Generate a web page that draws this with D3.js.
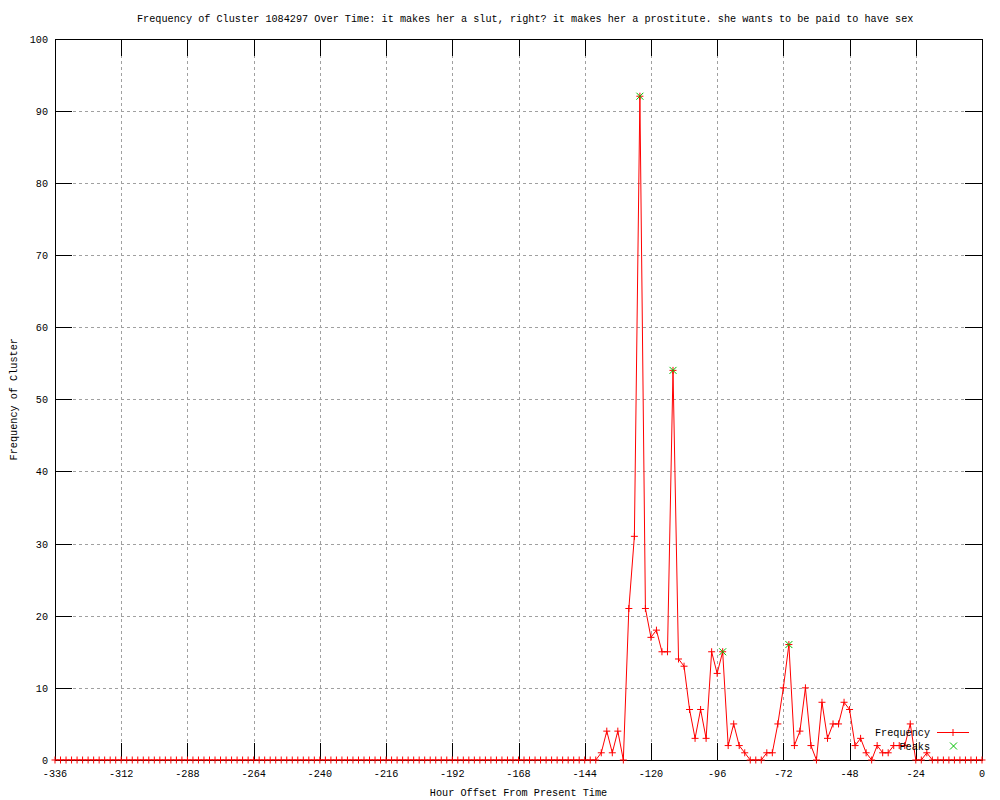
<!DOCTYPE html>
<html>
<head>
<meta charset="utf-8">
<script src="https://cdn.jsdelivr.net/npm/d3@7"></script>
<style>
  body { margin: 0; background: #fff; }
  text { font-family: "Liberation Mono", "DejaVu Sans Mono", monospace; font-size: 10.2px; fill: #000; }
</style>
</head>
<body>
<div class="chart"></div>
<script>
// hour offsets, one sample every 2 hours from -336 to 0
var hours = d3.range(-336, 1, 2);

// frequency of the cluster at each of the hours above
var frequency = [
  0, 0, 0, 0, 0, 0, 0, 0, 0, 0, 0, 0, 0, 0, 0, 0, 0, 0, 0, 0,
  0, 0, 0, 0, 0, 0, 0, 0, 0, 0, 0, 0, 0, 0, 0, 0, 0, 0, 0, 0,
  0, 0, 0, 0, 0, 0, 0, 0, 0, 0, 0, 0, 0, 0, 0, 0, 0, 0, 0, 0,
  0, 0, 0, 0, 0, 0, 0, 0, 0, 0, 0, 0, 0, 0, 0, 0, 0, 0, 0, 0,
  0, 0, 0, 0, 0, 0, 0, 0, 0, 0, 0, 0, 0, 0, 0, 0, 0, 0, 0,
  1, 4, 1, 4, 0, 21, 31, 92, 21, 17, 18, 15, 15, 54, 14, 13,
  7, 3, 7, 3, 15, 12, 15, 2, 5, 2, 1, 0, 0, 0, 1, 1, 5, 10, 16, 2,
  4, 10, 2, 0, 8, 3, 5, 5, 8, 7, 2, 3, 1, 0, 2, 1, 1, 2, 2, 2,
  5, 0, 0, 1, 0,
  0, 0, 0, 0, 0, 0, 0, 0, 0
];

var peakHours = [-124, -112, -94, -70];
var peakValues = [92, 54, 15, 16];

var xTicks = d3.range(-336, 1, 24);
var yTicks = d3.range(0, 101, 10);

var titleText = "Frequency of Cluster 1084297 Over Time: it makes her a slut, right? it makes her a prostitute. she wants to be paid to have sex";

const margin = ({ top: 38.5, right: 18, bottom: 40, left: 55 });
const width = 1000, height = 800;

var svg = d3.select(".chart").append("svg")
    .attr("width", width)
    .attr("height", height);

svg.append("rect").attr("width", width).attr("height", height).attr("fill", "#fff");

var x = d3.scaleLinear().domain([-336, 0]).range([margin.left, width - margin.right]);
var y = d3.scaleLinear().domain([0, 100]).range([height - margin.bottom, margin.top]);

var data = hours.map((h, i) => ({ h: h, v: frequency[i] }));
var peaks = peakHours.map((h, i) => ({ h: h, v: peakValues[i] }));

// grid
var grid = svg.append("g").attr("shape-rendering", "crispEdges")
    .attr("stroke", "#a0a0a0").attr("stroke-dasharray", "3,3");

grid.selectAll(".gx")
    .data(xTicks.slice(1, -1))
    .join("line")
    .attr("x1", d => Math.round(x(d)) + 0.5).attr("x2", d => Math.round(x(d)) + 0.5)
    .attr("y1", y(0)).attr("y2", y(100));

grid.selectAll(".gy")
    .data(yTicks.slice(1, -1))
    .join("line")
    .attr("class", "gy")
    .attr("y1", d => Math.round(y(d)) + 0.5).attr("y2", d => Math.round(y(d)) + 0.5)
    .attr("x1", x(-336)).attr("x2", x(0));

// ticks on all four sides (gnuplot mirror)
var tk = svg.append("g").attr("shape-rendering", "crispEdges").attr("stroke", "#000");
var tickLen = 17;

xTicks.forEach(d => {
  var px = Math.round(x(d)) + 0.5;
  tk.append("line").attr("x1", px).attr("x2", px).attr("y1", y(0)).attr("y2", y(0) - tickLen);
  tk.append("line").attr("x1", px).attr("x2", px).attr("y1", y(100)).attr("y2", y(100) + tickLen);
});
yTicks.forEach(d => {
  var py = Math.round(y(d)) + 0.5;
  tk.append("line").attr("y1", py).attr("y2", py).attr("x1", x(-336)).attr("x2", x(-336) + tickLen);
  tk.append("line").attr("y1", py).attr("y2", py).attr("x1", x(0)).attr("x2", x(0) - tickLen);
});

// tick labels
svg.append("g").selectAll("text")
    .data(xTicks)
    .join("text")
    .attr("x", d => x(d))
    .attr("y", y(0) + 17)
    .attr("text-anchor", "middle")
    .text(d => d);

svg.append("g").selectAll("text")
    .data(yTicks)
    .join("text")
    .attr("x", x(-336) - 7)
    .attr("y", d => y(d) + 4)
    .attr("text-anchor", "end")
    .text(d => d);

// data line
var line = d3.line().x(d => x(d.h)).y(d => y(d.v));

svg.append("path")
    .datum(data)
    .attr("d", line)
    .attr("fill", "none")
    .attr("stroke", "#ff0000")
    .attr("stroke-width", 1);

// border
svg.append("rect")
    .attr("x", Math.round(x(-336)) + 0.5)
    .attr("y", Math.round(y(100)) + 0.5)
    .attr("width", Math.round(x(0)) - Math.round(x(-336)))
    .attr("height", Math.round(y(0)) - Math.round(y(100)))
    .attr("fill", "none")
    .attr("stroke", "#000")
    .attr("shape-rendering", "crispEdges");

function plusPath(px, py, s) {
  return `M${px - s},${py}H${px + s}M${px},${py - s}V${py + s}`;
}
function crossPath(px, py, s) {
  return `M${px - s},${py - s}L${px + s},${py + s}M${px - s},${py + s}L${px + s},${py - s}`;
}

svg.append("g").selectAll("path")
    .data(data)
    .join("path")
    .attr("d", d => plusPath(x(d.h), y(d.v), 3.5))
    .attr("stroke", "#ff0000")
    .attr("fill", "none");

svg.append("g").selectAll("path")
    .data(peaks)
    .join("path")
    .attr("d", d => crossPath(x(d.h), y(d.v), 3.5))
    .attr("stroke", "#00c000")
    .attr("fill", "none");

// title and axis labels
svg.append("text")
    .attr("x", 137)
    .attr("y", 22)
    .text(titleText);

svg.append("text")
    .attr("x", (x(-336) + x(0)) / 2)
    .attr("y", 796)
    .attr("text-anchor", "middle")
    .text("Hour Offset From Present Time");

svg.append("text")
    .attr("transform", `translate(17, ${(y(0) + y(100)) / 2}) rotate(-90)`)
    .attr("text-anchor", "middle")
    .text("Frequency of Cluster");

// legend
var legend = svg.append("g");
legend.append("text").attr("x", 930).attr("y", 736).attr("text-anchor", "end").text("Frequency");
legend.append("line").attr("x1", 937).attr("x2", 969).attr("y1", 732.5).attr("y2", 732.5).attr("stroke", "#ff0000");
legend.append("path").attr("d", plusPath(953, 732.5, 3.5)).attr("stroke", "#ff0000");
legend.append("text").attr("x", 930).attr("y", 750).attr("text-anchor", "end").text("Peaks");
legend.append("path").attr("d", crossPath(953.5, 746, 3.5)).attr("stroke", "#00c000");
</script>
</body>
</html>
